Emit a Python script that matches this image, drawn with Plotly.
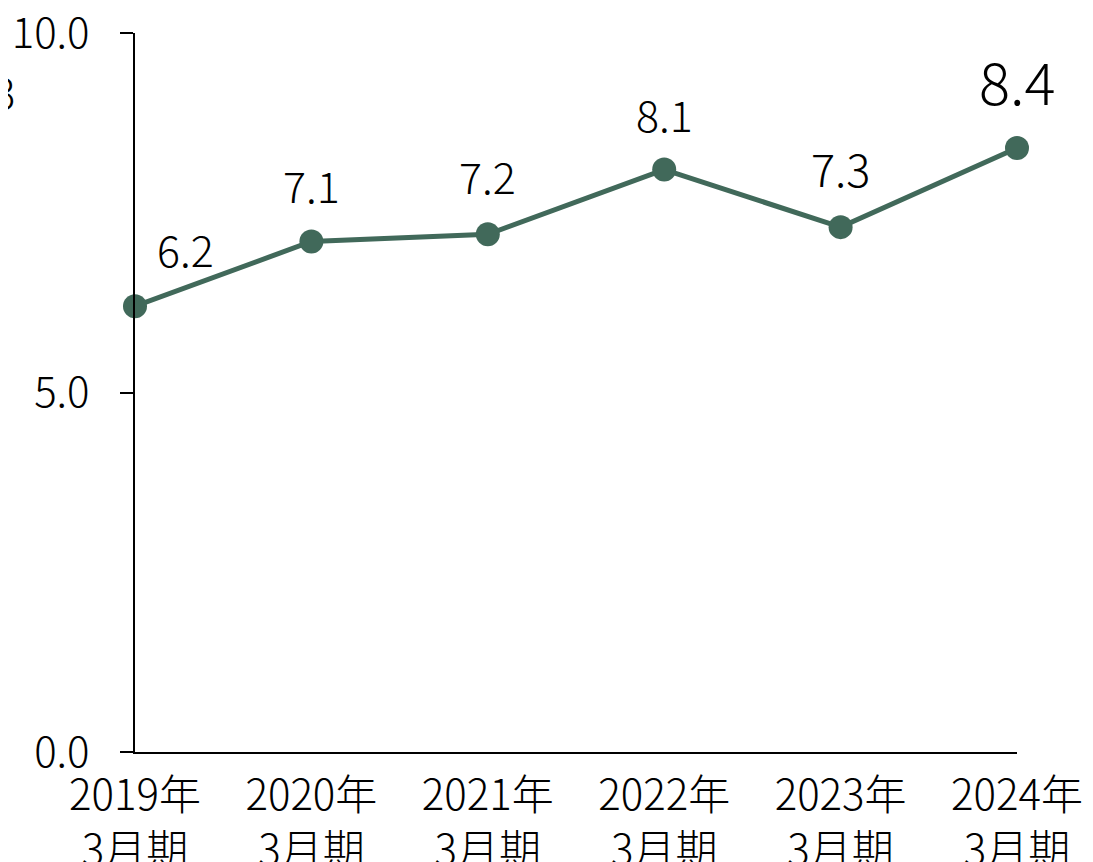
import plotly.graph_objects as go

categories = ["2019年<br>3月期", "2020年<br>3月期", "2021年<br>3月期", "2022年<br>3月期", "2023年<br>3月期", "2024年<br>3月期"]
values = [6.2, 7.1, 7.2, 8.1, 7.3, 8.4]
label_texts = ["6.2", "7.1", "7.2", "8.1", "7.3", "8.4"]
y_ticks = [0, 5, 10]
y_tick_text = ["0.0", "5.0", "10.0"]

FONT = "Noto Sans CJK JP"
COLOR = "#41695A"
xs = list(range(len(categories)))

fig = go.Figure()
fig.add_trace(go.Scatter(
    x=xs, y=values, mode="lines+markers",
    line=dict(color=COLOR, width=5),
    marker=dict(color=COLOR, size=24),
    cliponaxis=False, hoverinfo="skip", showlegend=False,
))

shifts = [(50, 58), (0, 58), (0, 59), (0, 57), (0, 60), (0, 68)]
sizes = [43, 43, 43, 43, 45, 58]
for i, (v, t) in enumerate(zip(values, label_texts)):
    fig.add_annotation(x=xs[i], y=v, xref="x", yref="y", text=t, showarrow=False,
                       xshift=shifts[i][0], yshift=shifts[i][1],
                       font=dict(family=FONT, size=sizes[i], color="#000000", weight=300))

fig.add_annotation(x=-0.134, y=0.965, xref="paper", yref="paper", text="3", showarrow=False,
                   xanchor="right", font=dict(family=FONT, size=42, color="#000000", weight=300))

fig.update_layout(
    width=1085, height=854,
    margin=dict(l=127, r=76, t=25, b=110, autoexpand=False),
    paper_bgcolor="white", plot_bgcolor="white",
    font=dict(family=FONT, size=40, color="#000000", weight=300),
    xaxis=dict(range=[0, 5], tickvals=xs, ticktext=categories, showline=True,
               linecolor="#000000", linewidth=2, showgrid=False, zeroline=False,
               ticks="", tickfont=dict(size=42, weight=300), automargin=False,
               ticklabelstandoff=6, ticklabeloverflow="allow"),
    yaxis=dict(range=[0, 10], tickvals=y_ticks, ticktext=y_tick_text, showline=True,
               linecolor="#000000", linewidth=2, showgrid=False, zeroline=False,
               ticks="outside", ticklen=13, tickcolor="#000000", tickwidth=2,
               tickfont=dict(size=42, weight=300), automargin=False,
               ticklabelstandoff=22, ticklabeloverflow="allow"),
)

fig.write_html("out.html")
